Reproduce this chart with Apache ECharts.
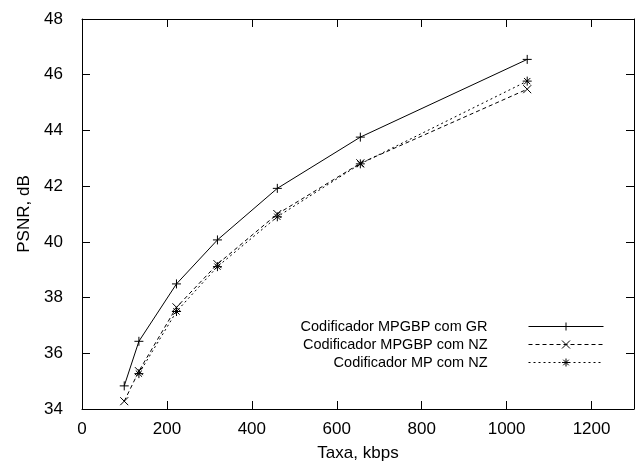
<!DOCTYPE html>
<html>
<head>
<meta charset="utf-8">
<script src="https://cdn.jsdelivr.net/npm/echarts@6/dist/echarts.min.js"></script>
<style>
  html, body { margin: 0; padding: 0; background: #fff; }
  #chart { width: 637px; height: 464px; }
</style>
</head>
<body>
<div id="chart"></div>
<script>
// dados (taxa em kbps, PSNR em dB)
var taxaGR = [99.5, 134, 222.5, 319, 460, 655.5, 1048.5];
var psnrGR = [34.83, 36.43, 38.49, 40.07, 41.92, 43.76, 46.55];

var taxaNZ = [99.5, 134, 222.5, 319, 460, 655.5, 1048.5];
var psnrNZ = [34.28, 35.36, 37.65, 39.2, 41.0, 42.82, 45.48];

var taxaMP = [134, 222.5, 319, 460, 655.5, 1048.5];
var psnrMP = [35.27, 37.5, 39.11, 40.9, 42.8, 45.77];

var nomes = ["Codificador MPGBP com GR", "Codificador MPGBP com NZ", "Codificador MP com NZ"];

// simbolos estilo gnuplot
var simbPlus = "path://M0,5L10,5M5,0L5,10";
var simbX = "path://M0,0L10,10M10,0L0,10";
var simbStar = "path://M0,5L10,5M5,0L5,10M1.5,1.5L8.5,8.5M8.5,1.5L1.5,8.5";

function pares(xs, ys) {
  return xs.map(function (x, i) { return [x, ys[i]]; });
}

var fonte = "Liberation Sans";

function serie(nome, dados, simb, tam, dash) {
  return {
    name: nome,
    type: "line",
    data: dados,
    symbol: simb,
    symbolSize: tam,
    showAllSymbol: true,
    animation: false,
    lineStyle: { color: "#000", width: 1, type: dash },
    itemStyle: { color: "#000", borderColor: "#000", borderWidth: 1 }
  };
}

var eixoBase = {
  axisLine: { show: true, onZero: false, lineStyle: { color: "#000", width: 1 } },
  axisTick: { show: true, inside: true, length: 8, lineStyle: { color: "#000" } },
  splitLine: { show: false }
};

var chart = echarts.init(document.getElementById("chart"));
chart.setOption({
  animation: false,
  backgroundColor: "#fff",
  grid: { left: 82, top: 19, right: 3, bottom: 55, show: false, containLabel: false, outerBoundsMode: "none" },
  legend: {
    orient: "vertical",
    align: "right",
    right: 28,
    top: 314,
    itemWidth: 75,
    itemHeight: 10,
    itemGap: 3,
    data: nomes,
    lineStyle: { width: 1 },
    itemStyle: { borderWidth: 1 },
    textStyle: { fontFamily: fonte, fontSize: 14.5, color: "#000", padding: [0, 36, 0, 0] }
  },
  xAxis: [
    Object.assign({}, eixoBase, {
      type: "value",
      min: 0,
      max: 1300,
      interval: 200,
      position: "bottom",
      name: "Taxa, kbps",
      nameLocation: "middle",
      nameGap: 36,
      nameTextStyle: { fontFamily: fonte, fontSize: 17, color: "#000" },
      axisLabel: {
        fontFamily: fonte, fontSize: 17, color: "#000", margin: 12, showMaxLabel: false,
        formatter: function (v) { return String(v); }
      }
    }),
    Object.assign({}, eixoBase, {
      type: "value",
      min: 0,
      max: 1300,
      interval: 200,
      position: "top",
      axisLabel: { show: false }
    })
  ],
  yAxis: [
    Object.assign({}, eixoBase, {
      type: "value",
      min: 34,
      max: 48,
      interval: 2,
      position: "left",
      name: "PSNR, dB",
      nameLocation: "middle",
      nameGap: 48,
      nameTextStyle: { fontFamily: fonte, fontSize: 17, color: "#000" },
      axisLabel: { fontFamily: fonte, fontSize: 17, color: "#000", margin: 19 }
    }),
    Object.assign({}, eixoBase, {
      type: "value",
      min: 34,
      max: 48,
      interval: 2,
      position: "right",
      axisLabel: { show: false }
    })
  ],
  series: [
    serie(nomes[0], pares(taxaGR, psnrGR), simbPlus, 9, "solid"),
    serie(nomes[1], pares(taxaNZ, psnrNZ), simbX, 8, [4, 3]),
    serie(nomes[2], pares(taxaMP, psnrMP), simbStar, 9, [2, 3])
  ]
});
</script>
</body>
</html>
